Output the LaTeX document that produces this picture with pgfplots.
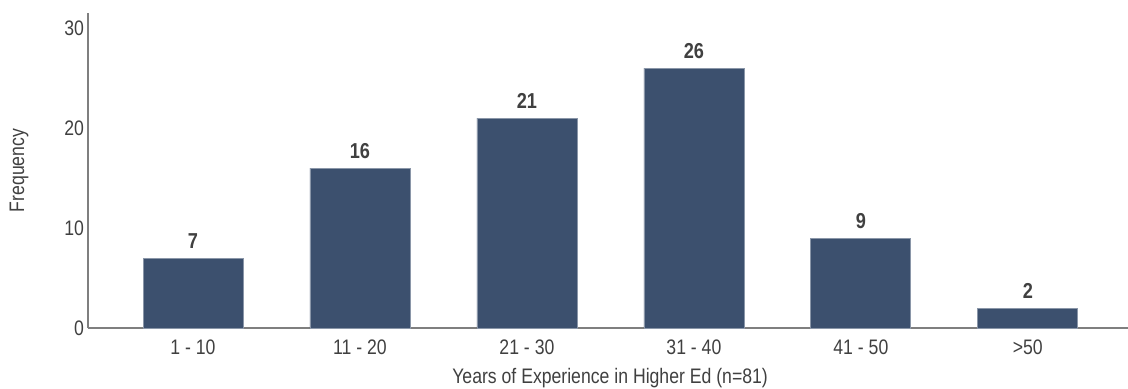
\documentclass[border=0pt]{standalone}
\usepackage{fontspec}
\setmainfont{Liberation Sans}[FakeStretch=0.84]
\usepackage{pgfplots}
\pgfplotsset{compat=1.18}
\definecolor{barblue}{HTML}{3C506E}
\definecolor{axisgrey}{HTML}{7F7F7F}
\definecolor{textgrey}{HTML}{404040}
\begin{document}
\begin{tikzpicture}
\useasboundingbox (-44pt,-30pt) rectangle (520pt,164pt);
\begin{axis}[
  at={(0,0)}, anchor=south west,
  scale only axis,
  width=520pt, height=157.5pt,
  xmin=-0.629, xmax=5.6,
  ymin=0, ymax=31.5,
  axis lines*=left,
  axis line style={axisgrey, line width=0.8pt, -},
  major tick length=0pt,
  xtick=data,
  xticklabels={1 - 10, 11 - 20, 21 - 30, 31 - 40, 41 - 50, >50},
  ytick={0,10,20,30},
  tick label style={font=\fontsize{10.5}{12}\selectfont, text=textgrey},
  yticklabel style={xshift=1.5pt},
  xticklabel style={yshift=-2.5pt},
  /pgf/number format/assume math mode=true,
  ylabel={Frequency},
  xlabel={Years of Experience in Higher Ed (n=81)},
  label style={font=\fontsize{10.5}{12}\selectfont, text=textgrey},
  ylabel style={at={(axis description cs:0,0.5)}, anchor=center, xshift=0pt},
  every axis y label/.append style={at={(-34.5pt,78.75pt)}},
  every axis x label/.append style={at={(axis description cs:0.502,0)}, anchor=center, yshift=-25pt},
  ybar, bar width=50pt,
  nodes near coords,
  nodes near coords style={font=\fontsize{10.8}{12}\bfseries\selectfont, text=textgrey, yshift=1pt},
  clip=false,
]
\addplot[fill=barblue, draw=barblue!60!white, line width=0.4pt]
  coordinates {(0,7) (1,16) (2,21) (3,26) (4,9) (5,2)};
\end{axis}
\end{tikzpicture}
\end{document}
